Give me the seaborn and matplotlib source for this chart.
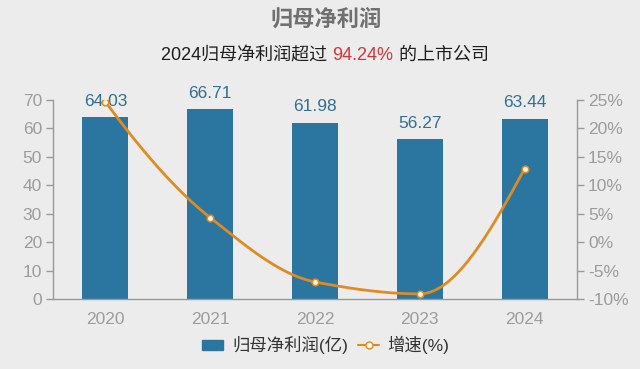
import numpy as np
import pandas as pd
import matplotlib
matplotlib.use('Agg')
import matplotlib.pyplot as plt
import seaborn as sns
from matplotlib.lines import Line2D
from matplotlib.patches import Patch

# data
years = ['2020', '2021', '2022', '2023', '2024']
profit = [64.03, 66.71, 61.98, 56.27, 63.44]        # 归母净利润(亿)
growth = [24.7, 4.3, -7.0, -9.1, 12.9]              # 增速(%)
left_ticks = [0, 10, 20, 30, 40, 50, 60, 70]
right_ticks = [-10, -5, 0, 5, 10, 15, 20, 25]

title = '归母净利润'
sub_parts = [('2024归母净利润超过 ', '#1e1e1e'), ('94.24%', '#d6343b'), (' 的上市公司', '#1e1e1e')]

BG = '#ececec'
BAR = '#2a76a0'
LINE = '#e08a22'
TICK = '#9c9c9c'
SPINE = '#9a9a9a'


def smooth(xs, ys, n=40):
    # monotone cubic (pchip) through the points, only for drawing the curve
    x = np.asarray(xs, float)
    y = np.asarray(ys, float)
    h = np.diff(x)
    d = np.diff(y) / h
    m = np.zeros_like(y)
    for k in range(1, len(y) - 1):
        if d[k - 1] * d[k] > 0:
            w1 = 2 * h[k] + h[k - 1]
            w2 = h[k] + 2 * h[k - 1]
            m[k] = (w1 + w2) / (w1 / d[k - 1] + w2 / d[k])
    m[0] = ((2 * h[0] + h[1]) * d[0] - h[0] * d[1]) / (h[0] + h[1])
    if np.sign(m[0]) != np.sign(d[0]):
        m[0] = 0
    m[-1] = ((2 * h[-1] + h[-2]) * d[-1] - h[-1] * d[-2]) / (h[-1] + h[-2])
    if np.sign(m[-1]) != np.sign(d[-1]):
        m[-1] = 0
    out_x, out_y = [], []
    t = np.linspace(0, 1, n)
    for k in range(len(y) - 1):
        h00 = 2 * t ** 3 - 3 * t ** 2 + 1
        h10 = t ** 3 - 2 * t ** 2 + t
        h01 = -2 * t ** 3 + 3 * t ** 2
        h11 = t ** 3 - t ** 2
        out_x.extend(x[k] + t * h[k])
        out_y.extend(h00 * y[k] + h10 * h[k] * m[k] + h01 * y[k + 1] + h11 * h[k] * m[k + 1])
    return np.array(out_x), np.array(out_y)


sns.set_theme(style='white')
plt.rcParams['font.family'] = ['Liberation Sans', 'Noto Sans CJK SC']
plt.rcParams['axes.unicode_minus'] = False

df = pd.DataFrame({'year': years, 'profit': profit, 'growth': growth})

fig = plt.figure(figsize=(6.4, 3.69), dpi=100, facecolor=BG)
ax = fig.add_axes([53 / 640, 70 / 369, 524 / 640, 199 / 369])
ax.set_facecolor(BG)

sns.barplot(data=df, x='year', y='profit', color=BAR, saturation=1, width=0.44,
            linewidth=0, ax=ax)
ax.set_xlim(-0.5, 4.5)
ax.set_ylim(0, 70)
ax.set_yticks(left_ticks)
ax.set_xlabel('')
ax.set_ylabel('')

for i, v in enumerate(profit):
    ax.annotate(f'{v:.2f}', (i, v), xytext=(0, 6), textcoords='offset points',
                ha='center', va='bottom', fontsize=12.5, color='#33708f')

# x ticks: labels at centres, tick marks at the boundaries
ax.set_xticks(range(len(years)))
ax.set_xticks(np.arange(-0.5, 4.6, 1), minor=True)
ax.tick_params(axis='x', which='major', length=0, pad=9, labelsize=12.5, labelcolor=TICK)
ax.tick_params(axis='x', which='minor', length=5, width=1, color=SPINE, direction='out')
ax.tick_params(axis='y', length=5, width=1, color=SPINE, direction='out', pad=3,
               labelsize=12.5, labelcolor=TICK)

for s in ['top', 'right']:
    ax.spines[s].set_visible(False)
for s in ['left', 'bottom']:
    ax.spines[s].set_color(SPINE)
    ax.spines[s].set_linewidth(1)

ax2 = ax.twinx()
ax2.set_ylim(-10, 25)
ax2.set_yticks(right_ticks)
ax2.set_yticklabels([f'{t}%' for t in right_ticks])
ax2.tick_params(axis='y', length=5, width=1, color=SPINE, direction='out', pad=3,
                labelsize=12.5, labelcolor=TICK)
for s in ['top', 'left', 'bottom']:
    ax2.spines[s].set_visible(False)
ax2.spines['right'].set_color(SPINE)
ax2.spines['right'].set_linewidth(1)

sx, sy = smooth(range(len(years)), growth)
ax2.plot(sx, sy, color=LINE, lw=2, solid_capstyle='round', zorder=3)
sns.scatterplot(x=np.arange(len(years)), y=growth, ax=ax2, s=22, color='#fff8ec',
                edgecolor=LINE, linewidth=1.2, zorder=4)

# titles
fig.text(326 / 640, 1 - 19.5 / 369, title, ha='center', va='center', fontsize=16,
         color='#707070', fontweight='bold')

fig.canvas.draw()
r = fig.canvas.get_renderer()
pieces = []
for txt, col in sub_parts:
    t = fig.text(0, 1 - 55.5 / 369, txt, ha='left', va='center', fontsize=13, color=col)
    pieces.append(t)
widths = [p.get_window_extent(r).width for p in pieces]
x0 = 325 - sum(widths) / 2
for p, w in zip(pieces, widths):
    p.set_x(x0 / 640)
    x0 += w

handles = [Patch(facecolor=BAR, edgecolor=BAR),
           Line2D([], [], color=LINE, lw=1.5, marker='o', markersize=5,
                  markerfacecolor='#fff8ec', markeredgecolor=LINE)]
fig.legend(handles, ['归母净利润(亿)', '增速(%)'], loc='center', ncol=2,
           bbox_to_anchor=(326 / 640, 1 - 345 / 369), frameon=False, fontsize=12.5,
           handlelength=1.2, handleheight=0.55, handletextpad=0.5, columnspacing=0.6,
           labelcolor='#333333')

fig.savefig('out.png', dpi=100, facecolor=BG)
